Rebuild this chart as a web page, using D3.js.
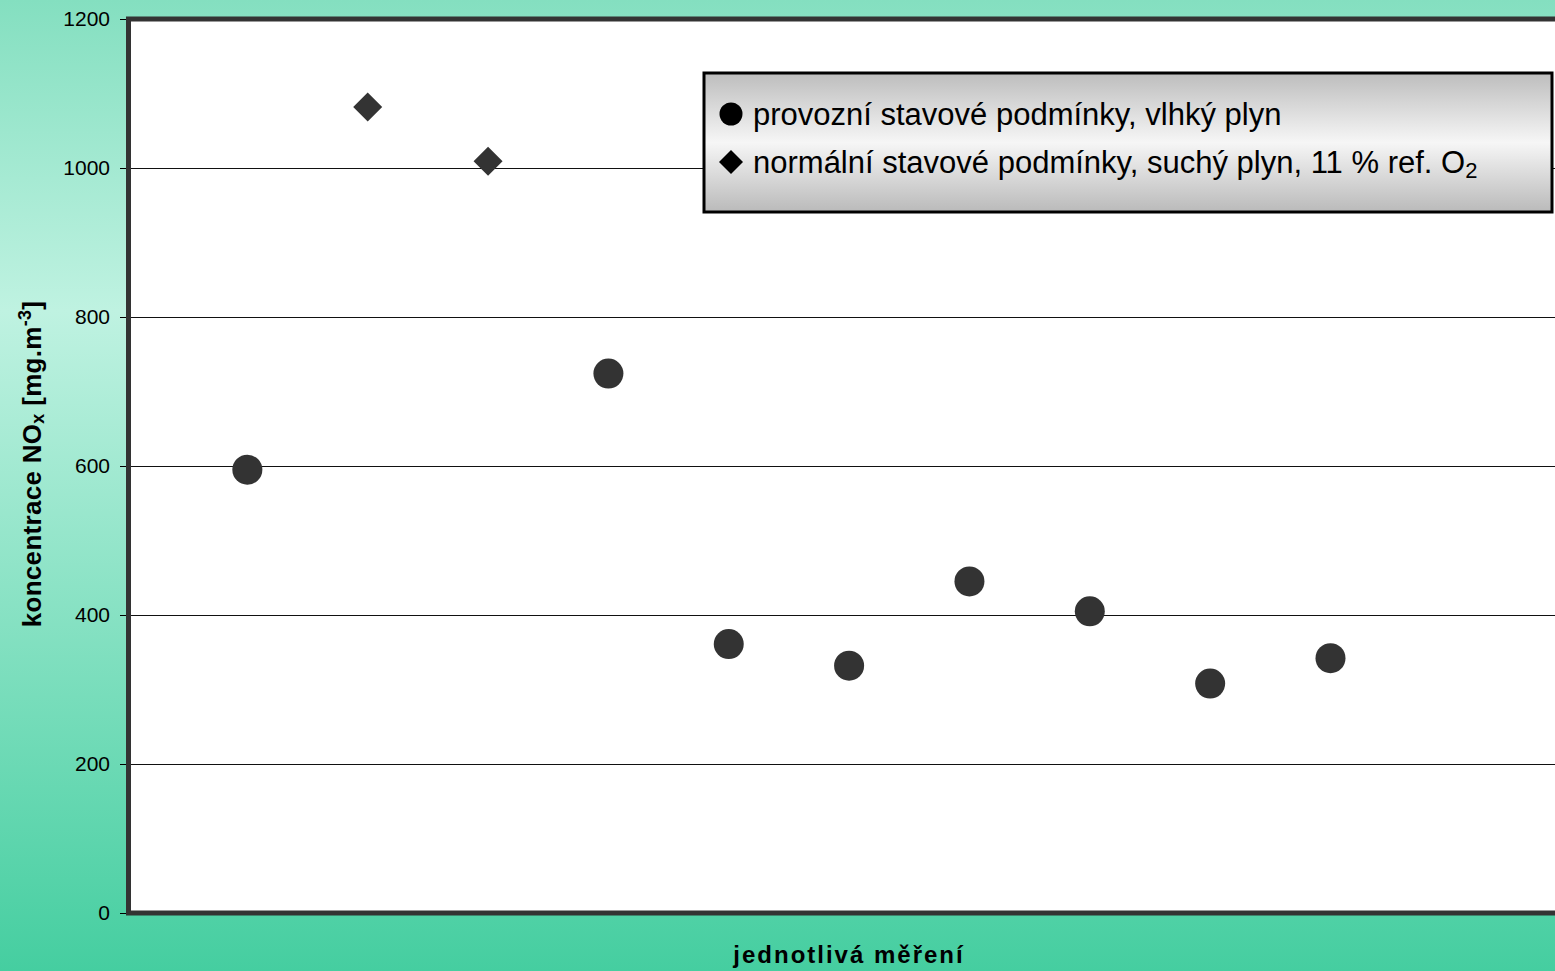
<!DOCTYPE html>
<html><head><meta charset="utf-8">
<script src="https://cdn.jsdelivr.net/npm/d3@7"></script>
<style>html,body{margin:0;padding:0;overflow:hidden;}svg{display:block;}</style>
</head><body>
<svg id="c" width="1555" height="971"></svg>
<script>
const measurements = [1,2,3,4,5,6,7,8,9,10];
const provozni = [595, null, null, 724, 361, 332, 445, 405, 308, 342];
const normalni = [null, 1082, 1009, null, null, null, null, null, null, null];
const yTicks = [0,200,400,600,800,1000,1200];
const legendLabels = ["provozní stavové podmínky, vlhký plyn", "normální stavové podmínky, suchý plyn, 11 % ref. O"];

const svg = d3.select("#c");
const W = 1555, H = 971;
const defs = svg.append("defs");
const bg = defs.append("linearGradient").attr("id","bg").attr("x1",0).attr("y1",0).attr("x2",0).attr("y2",1);
bg.append("stop").attr("offset","0%").attr("stop-color","#84dfc0");
bg.append("stop").attr("offset","32%").attr("stop-color","#bff2e1");
bg.append("stop").attr("offset","100%").attr("stop-color","#45cea0");
const lg = defs.append("linearGradient").attr("id","lg").attr("x1",0).attr("y1",0).attr("x2",0).attr("y2",1);
lg.append("stop").attr("offset","0%").attr("stop-color","#bdbdbd");
lg.append("stop").attr("offset","50%").attr("stop-color","#f6f6f6");
lg.append("stop").attr("offset","100%").attr("stop-color","#bababa");

svg.append("rect").attr("width",W).attr("height",H).attr("fill","url(#bg)");

const x = d3.scaleLinear().domain([0,12]).range([127, 127+12*120.35]);
const y = d3.scaleLinear().domain([0,1200]).range([913, 19]);
const x0 = 126;

// plot area
svg.append("rect").attr("x",x0+2.5).attr("y",y(1200)).attr("width",1600).attr("height",y(0)-y(1200))
  .attr("fill","#fff");

// gridlines
svg.append("g").selectAll("line").data(yTicks.filter(t=>t>0&&t<1200)).join("line")
  .attr("x1",x0+2).attr("x2",W).attr("y1",d=>Math.round(y(d))+0.5).attr("y2",d=>Math.round(y(d))+0.5)
  .attr("stroke","#111").attr("stroke-width",1);

// y axis
const yAxis = d3.axisLeft(y).tickValues(yTicks).tickFormat(d3.format("d")).tickSize(6).tickPadding(10).tickSizeOuter(0);
const ga = svg.append("g").attr("transform",`translate(${x0},0)`).call(yAxis);
ga.select(".domain").remove();
ga.selectAll(".tick line").attr("stroke","#000");
ga.selectAll(".tick text").attr("font-family","Liberation Sans, Arial, sans-serif").attr("font-size",21).attr("fill","#000");

// frame
svg.append("rect").attr("x",x0+2.5).attr("y",y(1200)).attr("width",1600).attr("height",y(0)-y(1200))
  .attr("fill","none").attr("stroke","#333").attr("stroke-width",5);

// points
svg.append("g").selectAll("circle").data(measurements.map((m,i)=>({m,v:provozni[i]})).filter(d=>d.v!=null)).join("circle")
  .attr("cx",d=>x(d.m)).attr("cy",d=>y(d.v)).attr("r",15).attr("fill","#333");
const dia = 14.5;
svg.append("g").selectAll("path").data(measurements.map((m,i)=>({m,v:normalni[i]})).filter(d=>d.v!=null)).join("path")
  .attr("d",d=>{const cx=x(d.m), cy=y(d.v); return `M${cx},${cy-dia}L${cx+dia},${cy}L${cx},${cy+dia}L${cx-dia},${cy}Z`;})
  .attr("fill","#333");

// legend
const L = svg.append("g");
L.append("rect").attr("x",704).attr("y",73).attr("width",848).attr("height",139)
  .attr("fill","url(#lg)").attr("stroke","#000").attr("stroke-width",3);
L.append("circle").attr("cx",731).attr("cy",114).attr("r",11.5).attr("fill","#000");
L.append("path").attr("d","M731,150L743,162L731,174L719,162Z").attr("fill","#000");
const lf = "Liberation Sans, Arial, sans-serif";
L.append("text").attr("x",753).attr("y",125).attr("font-family",lf).attr("font-size",31).attr("fill","#000").text(legendLabels[0]);
const t2 = L.append("text").attr("x",753).attr("y",173).attr("font-family",lf).attr("font-size",31).attr("fill","#000");
t2.append("tspan").text(legendLabels[1]);
t2.append("tspan").attr("font-size",22).attr("dy",5).text("2");

// y label
const yl = svg.append("text").attr("transform","translate(41,464) rotate(-90)").attr("text-anchor","middle")
  .attr("font-family",lf).attr("font-weight","bold").attr("font-size",26).attr("letter-spacing",0.3).attr("fill","#000");
yl.append("tspan").text("koncentrace NO");
yl.append("tspan").attr("font-size",18).attr("dy",3).text("x");
yl.append("tspan").attr("dy",-3).text(" [mg.m");
yl.append("tspan").attr("font-size",18).attr("dy",-10).text("-3");
yl.append("tspan").attr("dy",10).text("]");

// x label
svg.append("text").attr("x",849).attr("y",963).attr("text-anchor","middle").attr("font-family",lf)
  .attr("font-weight","bold").attr("font-size",24).attr("letter-spacing",2).attr("fill","#000").text("jednotlivá měření");
</script>
</body></html>
